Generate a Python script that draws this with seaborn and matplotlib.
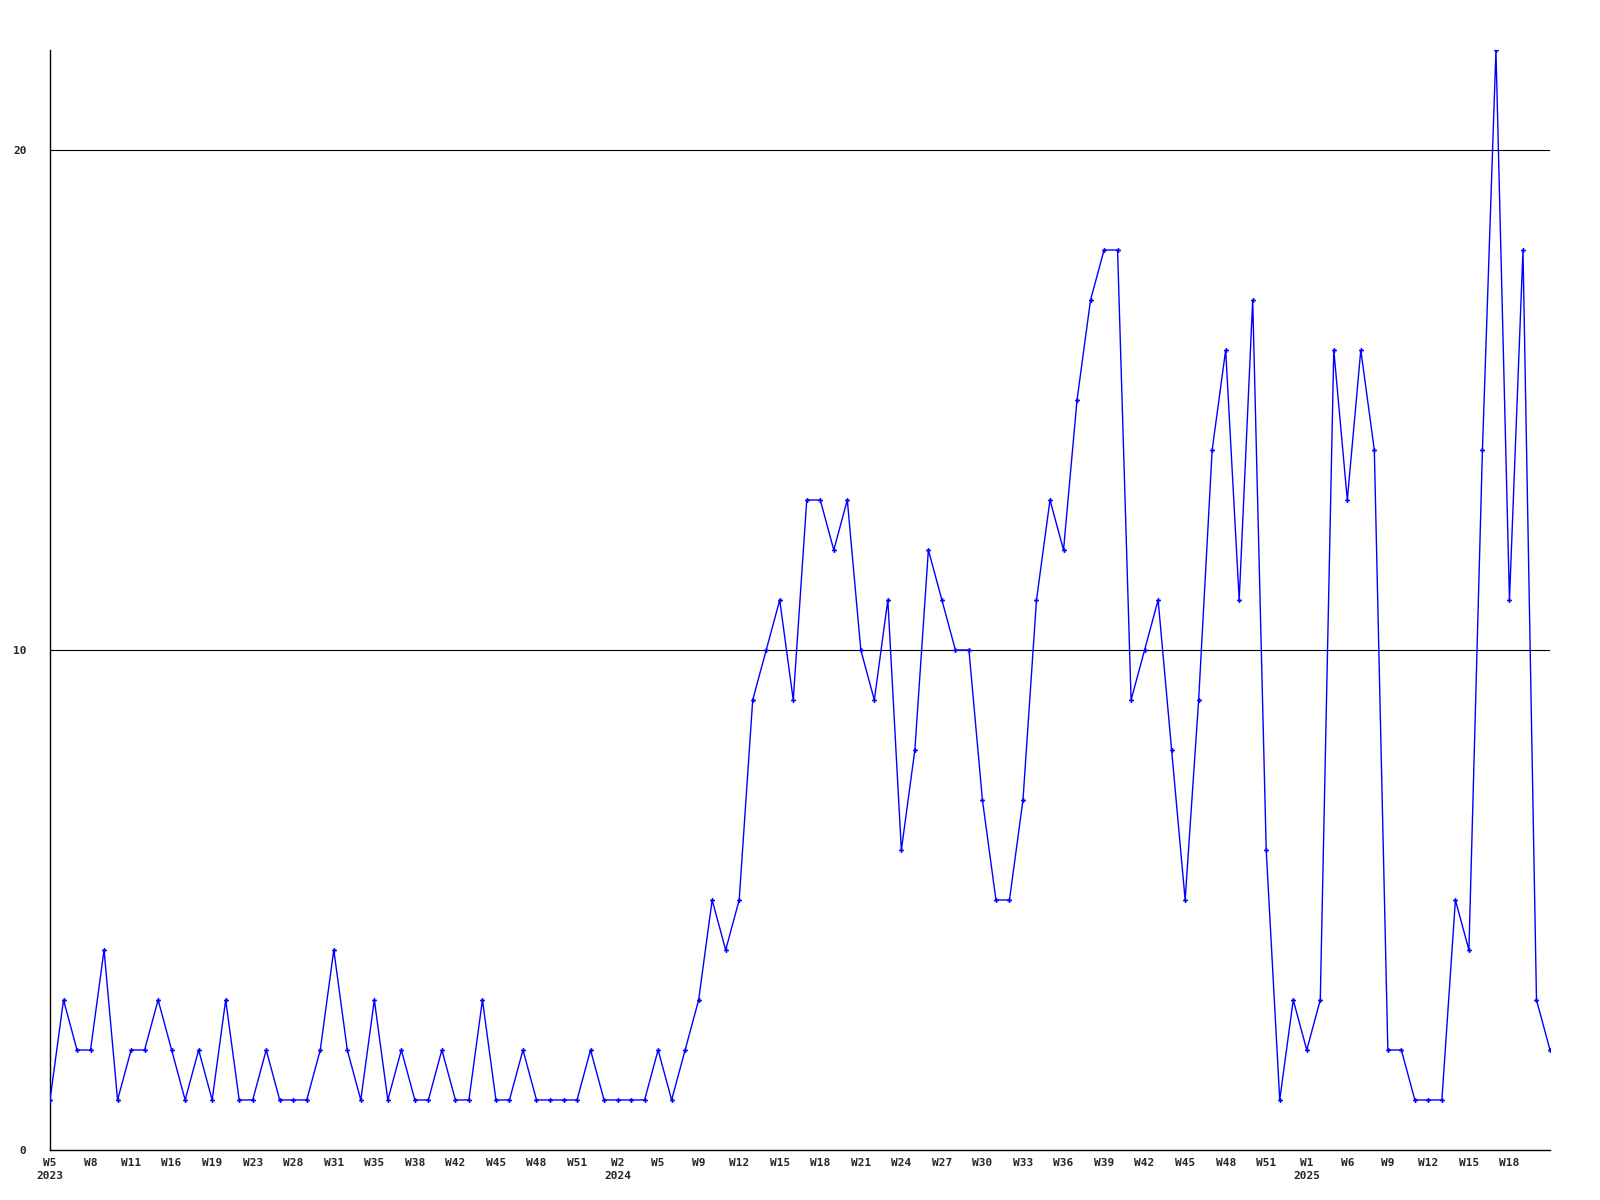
import numpy as np
import pandas as pd
import matplotlib
matplotlib.use("Agg")
import matplotlib.pyplot as plt
import seaborn as sns

# weekly counts, one entry per data row (some weeks missing)
values = [
    1, 3, 2, 2, 4, 1, 2, 2, 3, 2, 1, 2, 1, 3, 1, 1, 2, 1, 1, 1,
    2, 4, 2, 1, 3, 1, 2, 1, 1, 2, 1, 1, 3, 1, 1, 2, 1, 1, 1, 1,
    2, 1, 1, 1, 1, 2, 1, 2, 3, 5, 4, 5, 9, 10, 11, 9, 13, 13, 12, 13,
    10, 9, 11, 6, 8, 12, 11, 10, 10, 7, 5, 5, 7, 11, 13, 12, 15, 17, 18, 18,
    9, 10, 11, 8, 5, 9, 14, 16, 11, 17, 6, 1, 3, 2, 3, 16, 13, 16, 14, 2,
    2, 1, 1, 1, 5, 4, 14, 22, 11, 18, 3, 2,
]

# every third row gets a label
tick_labels = [
    "W5\n2023", "W8", "W11", "W16", "W19", "W23", "W28", "W31", "W35", "W38",
    "W42", "W45", "W48", "W51", "W2\n2024", "W5", "W9", "W12", "W15", "W18",
    "W21", "W24", "W27", "W30", "W33", "W36", "W39", "W42", "W45", "W48",
    "W51", "W1\n2025", "W6", "W9", "W12", "W15", "W18",
]

df = pd.DataFrame({"idx": np.arange(len(values)), "count": values})

sns.set_style("white")
plt.rcParams["font.family"] = ["DejaVu Sans Mono"]
plt.rcParams["font.weight"] = "bold"

fig = plt.figure(figsize=(16, 12), dpi=100)
ax = fig.add_axes([0.03125, 0.0417, 0.9375, 0.9166])

for yv in [10, 20]:
    ax.axhline(yv, color="black", lw=0.8, zorder=1)

sns.lineplot(data=df, x="idx", y="count", ax=ax, color="#0000ff", lw=1.0,
             marker="P", markersize=3.5, markeredgewidth=0, zorder=3)

ax.set_xlim(0, len(values) - 1)
ax.set_ylim(0, 22)
ax.set_yticks([0, 10, 20])
ax.set_yticklabels(["0", "10", "20"], fontsize=8, fontweight="bold")
ax.set_xticks(np.arange(len(tick_labels)) * 3)
ax.set_xticklabels(tick_labels, fontsize=8, fontweight="bold",
                   linespacing=1.4, va="top")
ax.tick_params(axis="both", length=0)
ax.tick_params(axis="y", pad=17)
ax.tick_params(axis="x", pad=6)
ax.set_xlabel("")
ax.set_ylabel("")

for side in ["top", "right"]:
    ax.spines[side].set_visible(False)
for side in ["left", "bottom"]:
    ax.spines[side].set_color("black")
    ax.spines[side].set_linewidth(1.0)

fig.savefig("out.png", dpi=100, facecolor="white")
